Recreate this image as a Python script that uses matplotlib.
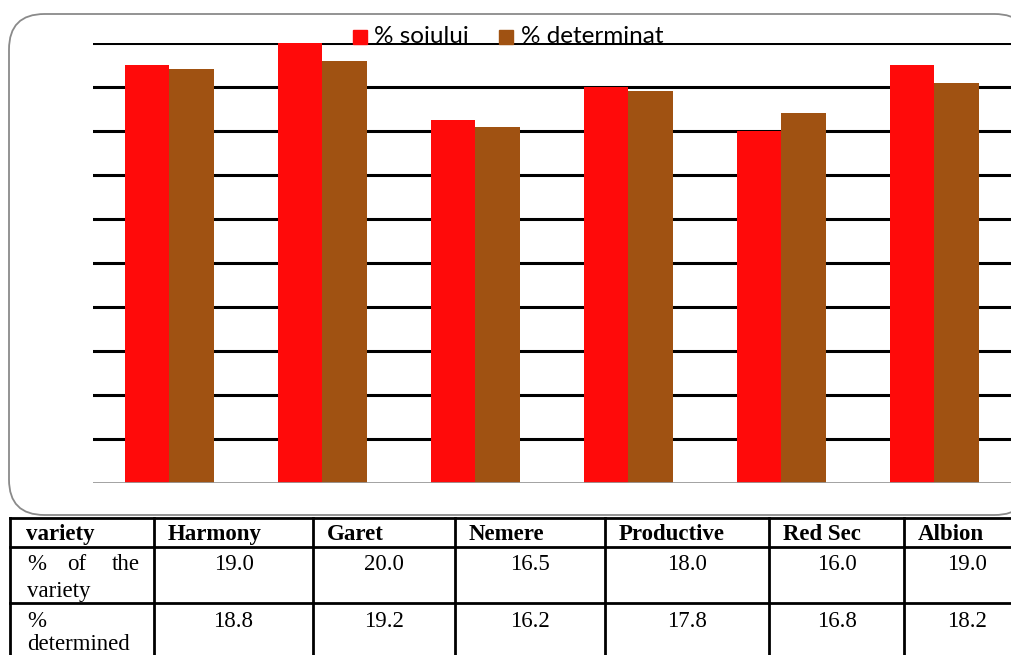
import matplotlib.pyplot as plt
from matplotlib.patches import FancyBboxPatch, Rectangle
import numpy as np

# --- Data ---
varieties = ["Harmony", "Garet", "Nemere", "Productive", "Red Sec", "Albion"]
pct_variety = [19.0, 20.0, 16.5, 18.0, 16.0, 19.0]
pct_determined = [18.8, 19.2, 16.2, 17.8, 16.8, 18.2]
legend_labels = ["% soiului", "% determinat"]
row_labels = ["variety", "% of the variety", "% determined"]

W, H = 1012, 655
RED = "#ff0a0a"
BROWN = "#a05212"

fig = plt.figure(figsize=(W / 100, H / 100), dpi=100)

def fx(px):
    return px / W

def fy(py):
    return 1 - py / H

# rounded frame around the chart
frame = FancyBboxPatch((fx(9), fy(515)), fx(1030) - fx(9), fy(14) - fy(515),
                       boxstyle="round,pad=0,rounding_size=0.035",
                       transform=fig.transFigure, fc="white", ec="#8a8a8a", lw=1.3,
                       mutation_aspect=W / H, zorder=-1)
fig.patches.append(frame)

# --- Bar chart ---
ax = fig.add_axes([fx(93), fy(483), fx(1011) - fx(93), fy(43) - fy(483)])
ax.patch.set_visible(False)
x = np.arange(len(varieties))
bw = 0.288
for yv in range(2, 21, 2):
    ax.axhline(yv, color="black", lw=2.2, zorder=1)
ax.axhline(0, color="#999999", lw=2, zorder=3)
ax.bar(x - bw / 2, pct_variety, bw, color=RED, zorder=2)
ax.bar(x + bw / 2, pct_determined, bw, color=BROWN, zorder=2)
ax.set_xlim(-0.5, len(varieties) - 0.5)
ax.set_ylim(0, 20)
ax.axis("off")

# legend
leg_font = ["Lato", "DejaVu Sans"]
fig.patches.append(Rectangle((fx(353), fy(44)), fx(14), fy(30) - fy(44),
                             transform=fig.transFigure, color=RED))
fig.text(fx(374), fy(43), legend_labels[0], fontsize=17.5, family=leg_font, va="baseline")
fig.patches.append(Rectangle((fx(499), fy(44)), fx(14), fy(30) - fy(44),
                             transform=fig.transFigure, color=BROWN))
fig.text(fx(521), fy(43), legend_labels[1], fontsize=17.5, family=leg_font, va="baseline")

# --- Table ---
tfont = "Liberation Serif"
col_edges = [10, 154, 313, 455, 605, 769, 904, 1030]
row_edges = [518, 547, 603, 660]
lw = 2
for yy in row_edges[:-1]:
    fig.add_artist(plt.Line2D([fx(10), 1], [fy(yy), fy(yy)], color="black", lw=lw,
                              transform=fig.transFigure))
for xx in col_edges[:-1]:
    fig.add_artist(plt.Line2D([fx(xx), fx(xx)], [fy(518), 0], color="black", lw=lw,
                              transform=fig.transFigure))

fs = 16.5
fig.text(fx(26), fy(540), row_labels[0], fontsize=fs, family=tfont, weight="bold", va="baseline")
for i, name in enumerate(varieties):
    fig.text(fx(col_edges[i + 1] + 14), fy(540), name, fontsize=fs, family=tfont,
             weight="bold", va="baseline")

# justified first-column labels
words = row_labels[1].split()
fig.text(fx(27), fy(570), words[0], fontsize=fs, family=tfont, va="baseline")
fig.text(fx(67), fy(570), words[1], fontsize=fs, family=tfont, va="baseline")
fig.text(fx(140), fy(570), words[2], fontsize=fs, family=tfont, va="baseline", ha="right")
fig.text(fx(27), fy(597), words[3], fontsize=fs, family=tfont, va="baseline")
w2 = row_labels[2].split()
fig.text(fx(27), fy(627), w2[0], fontsize=fs, family=tfont, va="baseline")
fig.text(fx(27), fy(650), w2[1], fontsize=fs, family=tfont, va="baseline")

for i in range(len(varieties)):
    cx = (col_edges[i + 1] + col_edges[i + 2]) / 2
    fig.text(fx(cx), fy(570), f"{pct_variety[i]:.1f}", fontsize=fs, family=tfont,
             ha="center", va="baseline")
    fig.text(fx(cx), fy(627), f"{pct_determined[i]:.1f}", fontsize=fs, family=tfont,
             ha="center", va="baseline")

fig.savefig("out.png", dpi=100)
